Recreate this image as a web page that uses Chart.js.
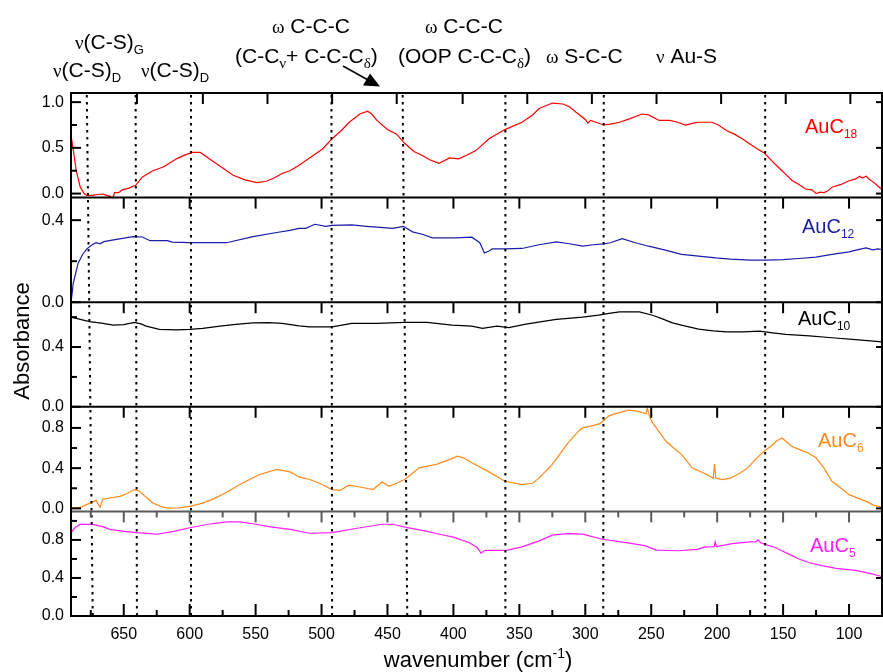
<!DOCTYPE html>
<html>
<head>
<meta charset="utf-8">
<script src="https://cdn.jsdelivr.net/npm/chart.js@4/dist/chart.umd.min.js"></script>
<style>
  html, body { margin: 0; padding: 0; background: #fff; }
  #wrap { width: 883px; height: 672px; }
</style>
</head>
<body>
<div id="wrap"><canvas id="spectra" width="883" height="672"></canvas></div>
<script>
const SANS = '"Liberation Sans", Arial, sans-serif';
const SERIF = '"Liberation Serif", "Times New Roman", serif';

// --- data: wavenumber (cm-1) and absorbance per film ---
const wnC18 = [690, 688, 686, 683, 680, 678, 674, 670, 666, 663, 660, 659, 658, 657, 654, 651, 646, 641, 636, 628,
  620, 610, 604, 598, 592, 583, 575, 567, 558, 549, 542, 536, 530, 524, 517, 508, 499, 492, 485, 479,
  471, 465, 462, 458, 450, 443, 437, 430, 424, 418, 411, 407, 403, 396, 390, 383, 373, 361, 348, 340,
  335, 325, 317, 312, 307, 300, 298, 296, 292, 286, 281, 274, 266, 257, 252, 244, 236, 230, 224, 218,
  214, 208, 204, 199, 193, 187, 181, 176, 171, 164, 158, 153, 148, 143, 138, 133, 128, 125, 122, 119,
  116, 113, 106, 100, 95, 92, 90, 87, 85, 81, 78, 75.5];
const absC18 = [0.64, 0.45, 0.25, 0.07, 0.0, -0.02, -0.02, -0.01, -0.005, -0.02, -0.03, -0.13, -0.04, 0.01, 0.01, 0.04, 0.06, 0.09, 0.18, 0.25,
  0.29, 0.38, 0.42, 0.45, 0.45, 0.36, 0.28, 0.20, 0.15, 0.12, 0.135, 0.17, 0.22, 0.25, 0.31, 0.40, 0.49, 0.60, 0.69, 0.78,
  0.87, 0.90, 0.87, 0.80, 0.70, 0.65, 0.55, 0.46, 0.42, 0.37, 0.33, 0.36, 0.39, 0.38, 0.42, 0.47, 0.60, 0.70, 0.78, 0.86,
  0.93, 0.99, 0.98, 0.95, 0.89, 0.81, 0.77, 0.80, 0.78, 0.75, 0.76, 0.78, 0.82, 0.87, 0.86, 0.80, 0.80, 0.78, 0.75, 0.77,
  0.78, 0.78, 0.78, 0.75, 0.69, 0.65, 0.60, 0.55, 0.50, 0.44, 0.35, 0.28, 0.21, 0.14, 0.10, 0.05, 0.04, 0.00, 0.015, 0.01,
  0.03, 0.07, 0.10, 0.14, 0.16, 0.19, 0.17, 0.19, 0.16, 0.12, 0.08, 0.05];

const wnC12 = [690, 689, 688.4, 686.5, 684.6, 681, 678, 674, 671, 668, 665, 661, 652, 643, 636, 630, 617, 613, 600, 592,
  572, 552, 534, 524, 517, 512, 505, 497, 492, 477, 466, 458, 446, 438, 431, 423, 416, 398, 386, 380,
  376.5, 373, 370.5, 361, 348, 335, 322, 312, 302, 294, 286, 281, 272, 262, 252, 240, 227, 214, 201, 190,
  175, 163, 150, 138, 125, 113, 100, 94, 87, 82, 78, 75];
const absC12 = [0.0, 0.05, 0.09, 0.14, 0.19, 0.235, 0.26, 0.28, 0.29, 0.285, 0.295, 0.30, 0.31, 0.32, 0.318, 0.30, 0.30, 0.293, 0.29, 0.29,
  0.29, 0.32, 0.34, 0.35, 0.36, 0.36, 0.38, 0.37, 0.375, 0.377, 0.37, 0.366, 0.36, 0.37, 0.343, 0.33, 0.314, 0.314, 0.317, 0.29,
  0.24, 0.25, 0.26, 0.26, 0.262, 0.28, 0.294, 0.285, 0.273, 0.28, 0.284, 0.29, 0.31, 0.29, 0.273, 0.255, 0.233, 0.225, 0.216, 0.21,
  0.205, 0.205, 0.208, 0.213, 0.22, 0.233, 0.245, 0.255, 0.265, 0.255, 0.26, 0.257];

const wnC10 = [690, 683, 676, 667, 658, 650, 642, 637, 633, 623, 610, 600, 590, 577, 565, 552, 540, 530, 517, 509,
  492, 477, 458, 437, 420, 401, 386, 378, 367, 358, 345, 333, 322, 302, 290, 282, 274, 259, 249, 242,
  234, 224, 214, 203, 193, 180, 168, 158, 148, 130, 113, 95, 75];
const absC10 = [0.60, 0.585, 0.57, 0.56, 0.547, 0.55, 0.565, 0.555, 0.54, 0.518, 0.515, 0.518, 0.525, 0.54, 0.552, 0.562, 0.563, 0.558, 0.542, 0.535,
  0.535, 0.558, 0.558, 0.565, 0.565, 0.547, 0.54, 0.525, 0.54, 0.53, 0.553, 0.57, 0.585, 0.60, 0.613, 0.625, 0.635, 0.635, 0.613, 0.59,
  0.562, 0.54, 0.52, 0.508, 0.502, 0.502, 0.506, 0.495, 0.485, 0.475, 0.462, 0.45, 0.435];

const wnC6 = [690, 683, 676, 671, 668, 666, 661, 653, 647, 642, 638, 633, 628, 622, 617, 608, 600, 591, 583, 572,
  562, 547, 534, 524, 517, 509, 500, 492, 486, 479, 470, 461, 454, 449, 443, 437, 431, 426, 413, 404,
  397, 392, 386, 373, 361, 348, 340, 335, 325, 314, 305, 302, 295, 289, 282, 275, 267, 260, 254, 253,
  251, 249, 239, 233, 227, 219, 208, 203, 202, 201, 196, 190, 183, 177, 171, 164, 159, 155, 151, 148,
  144, 138, 131, 125, 119, 113, 106, 100, 93, 87, 81, 75];
const absC6 = [0.0, 0.01, 0.05, 0.08, 0.01, 0.09, 0.103, 0.12, 0.15, 0.187, 0.17, 0.11, 0.053, 0.02, 0.003, 0.005, 0.02, 0.05, 0.087, 0.16,
  0.237, 0.337, 0.387, 0.363, 0.313, 0.287, 0.24, 0.187, 0.18, 0.23, 0.21, 0.187, 0.263, 0.22, 0.25, 0.287, 0.35, 0.403, 0.437, 0.48,
  0.52, 0.50, 0.453, 0.363, 0.27, 0.237, 0.25, 0.303, 0.437, 0.637, 0.77, 0.80, 0.82, 0.843, 0.92, 0.95, 0.977, 0.965, 0.94, 1.0,
  0.90, 0.853, 0.67, 0.60, 0.537, 0.403, 0.337, 0.30, 0.44, 0.30, 0.287, 0.30, 0.35, 0.40, 0.487, 0.573, 0.62, 0.67, 0.70, 0.67,
  0.62, 0.587, 0.55, 0.503, 0.40, 0.27, 0.20, 0.137, 0.10, 0.07, 0.03, 0.013];

const wnC5 = [690, 687, 683, 673.5, 666, 660.6, 650, 640, 625, 612, 600, 586, 572, 562, 552, 540, 524, 509, 492, 474,
  454, 446, 435, 420, 410.6, 400, 388, 382, 379, 376, 360, 348, 335, 325, 314, 302, 287, 269, 255, 246,
  229, 215, 208.7, 202.3, 201.5, 200.5, 188.6, 175, 170.5, 169, 167, 163, 156, 151, 144, 138, 130, 120.5, 110, 95,
  85, 75];
const absC5 = [0.876, 0.93, 0.963, 0.963, 0.94, 0.911, 0.89, 0.876, 0.86, 0.89, 0.928, 0.965, 0.99, 0.99, 0.97, 0.94, 0.911, 0.87, 0.876, 0.92,
  0.965, 0.965, 0.93, 0.89, 0.86, 0.83, 0.77, 0.72, 0.66, 0.69, 0.69, 0.727, 0.79, 0.85, 0.866, 0.86, 0.807, 0.772, 0.74, 0.693,
  0.686, 0.70, 0.727, 0.73, 0.78, 0.73, 0.762, 0.78, 0.783, 0.80, 0.77, 0.75, 0.72, 0.686, 0.64, 0.60, 0.56, 0.53, 0.50, 0.48,
  0.45, 0.415];

// panels, top to bottom
const panelIds = ['yC18', 'yC12', 'yC10', 'yC6', 'yC5'];
const labelSubs = ['18', '12', '10', '6', '5'];
const seriesX = [wnC18, wnC12, wnC10, wnC6, wnC5];
const seriesY = [absC18, absC12, absC10, absC6, absC5];
const seriesColors = ['#ff0000', '#1c1ca8', '#000000', '#ff8a1c', '#ff1cff'];
const yMin = [-0.044, 0, 0, -0.03, 0];
const yMax = [1.10, 0.51, 0.70, 1.01, 1.10];
const yTickLabels = [[0, 0.5, 1.0], [0, 0.4], [0, 0.4], [0, 0.4, 0.8], [0, 0.4, 0.8]];
const yMinorTicks = [[0.25, 0.75], [0.2], [0.2, 0.6], [0.2, 0.6], [0.2, 0.6, 1.0]];

// x axis
const xTickLabels = [650, 600, 550, 500, 450, 400, 350, 300, 250, 200, 150, 100];
const xMinorTicks = [675, 625, 575, 525, 475, 425, 375, 325, 275, 225, 175, 125, 75];
// the top panel's own tick marks sit slightly off the common scale
const topPanelTicks = [640, 590, 541, 492, 443, 393, 344, 295, 246, 197, 148, 99];

// dotted band markers (slightly slanted in the original)
const guideTop = [678, 641, 599, 492.5, 438.5, 360.6, 286, 163.6];
const guideBottom = [673.5, 640, 599, 492, 435, 360.6, 286.4, 163.6];

// series labels: [x px, baseline px]
const labelPos = [[805, 133], [802, 233], [798, 325], [818, 447], [810, 552]];

// band assignments above the plot
const annotations = [
  { x: 75, y: 49, runs: [['ν', 'g'], ['(C-S)', 'n'], ['G', 's']] },
  { x: 53, y: 77, runs: [['ν', 'g'], ['(C-S)', 'n'], ['D', 's']] },
  { x: 141, y: 77, runs: [['ν', 'g'], ['(C-S)', 'n'], ['D', 's']] },
  { x: 272, y: 33, runs: [['ω', 'g'], [' C-C-C', 'n']] },
  { x: 235, y: 63, runs: [['(C-C', 'n'], ['ν', 'sg'], ['+ C-C-C', 'n'], ['δ', 'sg'], [')', 'n']] },
  { x: 425, y: 33, runs: [['ω', 'g'], [' C-C-C', 'n']] },
  { x: 398, y: 63, runs: [['(OOP C-C-C', 'n'], ['δ', 'sg'], [')', 'n']] },
  { x: 546, y: 63, runs: [['ω', 'g'], [' S-C-C', 'n']] },
  { x: 656, y: 63, runs: [['ν', 'g'], [' Au-S', 'n']] }
];

function drawRuns(ctx, x, y, runs, size, align) {
  const st = {
    n: [size + 'px ' + SANS, 0],
    g: [(size - 2) + 'px ' + SERIF, 0],
    s: [Math.round(size * 0.62) + 'px ' + SANS, 5],
    sg: [Math.round(size * 0.72) + 'px ' + SERIF, 5],
    p: [Math.round(size * 0.62) + 'px ' + SANS, -9]
  };
  let total = 0;
  runs.forEach(([t, k]) => { ctx.font = st[k][0]; total += ctx.measureText(t).width; });
  let cx = align === 'center' ? x - total / 2 : x;
  ctx.textAlign = 'left';
  ctx.textBaseline = 'alphabetic';
  runs.forEach(([t, k]) => {
    ctx.font = st[k][0];
    ctx.fillText(t, cx, y + st[k][1]);
    cx += ctx.measureText(t).width;
  });
}

const panelFrames = {
  id: 'panelFrames',
  afterDatasetsDraw(chart) {
    const { ctx, chartArea: a, scales } = chart;
    const xs = scales.x;
    ctx.save();

    // dotted guide lines
    ctx.strokeStyle = '#000';
    ctx.lineWidth = 2;
    ctx.setLineDash([2.5, 4.5]);
    guideTop.forEach((w, i) => {
      ctx.beginPath();
      ctx.moveTo(xs.getPixelForValue(w), a.top + 2);
      ctx.lineTo(xs.getPixelForValue(guideBottom[i]), a.bottom);
      ctx.stroke();
    });
    ctx.setLineDash([]);

    const vTick = (w, y, len, col) => {
      const px = xs.getPixelForValue(w);
      ctx.strokeStyle = col;
      ctx.beginPath(); ctx.moveTo(px, y); ctx.lineTo(px, y + len); ctx.stroke();
    };

    panelIds.forEach((id, i) => {
      const ys = scales[id];
      const top = ys.top;
      const col = i === 4 ? '#5a5a5a' : '#000';
      ctx.lineWidth = 2;
      // panel top edge and its ticks
      ctx.strokeStyle = col;
      ctx.beginPath(); ctx.moveTo(a.left, top); ctx.lineTo(a.right, top); ctx.stroke();
      if (i === 0) {
        topPanelTicks.forEach(w => vTick(w, top, 11, '#000'));
      } else {
        xTickLabels.forEach(w => vTick(w, top, 11, col));
        if (i === 4) xMinorTicks.forEach(w => vTick(w, top, 6, col));
      }
      // y ticks: inward on both sides
      ctx.strokeStyle = '#000';
      yTickLabels[i].forEach(v => {
        const py = ys.getPixelForValue(v);
        ctx.beginPath(); ctx.moveTo(a.left, py); ctx.lineTo(a.left + 10, py); ctx.stroke();
        ctx.beginPath(); ctx.moveTo(a.right, py); ctx.lineTo(a.right - 6, py); ctx.stroke();
      });
      yMinorTicks[i].forEach(v => {
        const py = ys.getPixelForValue(v);
        ctx.beginPath(); ctx.moveTo(a.left, py); ctx.lineTo(a.left + 6, py); ctx.stroke();
      });
    });

    // outer frame bottom + sides
    ctx.strokeStyle = '#000';
    ctx.beginPath(); ctx.moveTo(a.left, a.bottom); ctx.lineTo(a.right, a.bottom); ctx.stroke();
    xTickLabels.forEach(w => vTick(w, a.bottom, -12, '#000'));
    xMinorTicks.forEach(w => vTick(w, a.bottom, -6, '#000'));
    ctx.beginPath(); ctx.moveTo(a.left, a.top - 1); ctx.lineTo(a.left, a.bottom + 1); ctx.stroke();
    ctx.beginPath(); ctx.moveTo(a.right, a.top - 1); ctx.lineTo(a.right, a.bottom + 1); ctx.stroke();

    // series labels
    labelPos.forEach(([lx, ly], i) => {
      ctx.fillStyle = seriesColors[i];
      drawRuns(ctx, lx, ly, [['AuC', 'n'], [labelSubs[i], 's']], 20);
    });

    // annotations + arrow
    ctx.fillStyle = '#000';
    ctx.strokeStyle = '#000';
    annotations.forEach(an => drawRuns(ctx, an.x, an.y, an.runs, 21));
    ctx.lineWidth = 1.6;
    ctx.beginPath(); ctx.moveTo(343, 66); ctx.lineTo(369, 80.5); ctx.stroke();
    ctx.beginPath(); ctx.moveTo(380, 86.5); ctx.lineTo(363, 85.5); ctx.lineTo(370, 73.5); ctx.closePath(); ctx.fill();

    // axis titles
    drawRuns(ctx, 478, 667, [['wavenumber (cm', 'n'], ['-1', 'p'], [')', 'n']], 22, 'center');
    ctx.save();
    ctx.translate(29, 341);
    ctx.rotate(-Math.PI / 2);
    ctx.font = '22px ' + SANS;
    ctx.textAlign = 'center';
    ctx.textBaseline = 'alphabetic';
    ctx.fillText('Absorbance', 0, 0);
    ctx.restore();

    ctx.restore();
  }
};

const yScales = {};
// stacked left axes; in this stack a higher weight sits higher up
panelIds.forEach((id, i) => {
  yScales[id] = {
    type: 'linear',
    position: 'left',
    stack: 'panels',
    stackWeight: 1,
    weight: panelIds.length - 1 - i,
    min: yMin[i],
    max: yMax[i],
    grid: { display: false, drawTicks: false },
    border: { display: false },
    afterBuildTicks: s => { s.ticks = yTickLabels[i].map(v => ({ value: v })); },
    afterFit: s => { s.width = 71; },
    ticks: {
      autoSkip: false,
      padding: 7,
      color: '#000',
      font: { family: SANS, size: 16 },
      callback: v => Number(v).toFixed(1)
    }
  };
});

const datasets = panelIds.map((id, i) => ({
  label: 'AuC' + labelSubs[i],
  data: seriesX[i].map((w, k) => ({ x: w, y: seriesY[i][k] })),
  yAxisID: id,
  borderColor: seriesColors[i],
  borderWidth: 1.2,
  pointRadius: 0,
  tension: 0,
  fill: false
}));

new Chart(document.getElementById('spectra'), {
  type: 'line',
  data: { datasets },
  options: {
    responsive: false,
    animation: false,
    layout: { padding: { top: 93, right: 1, bottom: 0, left: 0 } },
    plugins: { legend: { display: false }, tooltip: { enabled: false } },
    scales: Object.assign({
      x: {
        type: 'linear',
        reverse: true,
        min: 75,
        max: 690,
        position: 'bottom',
        grid: { display: false, drawTicks: false },
        border: { display: false },
        afterBuildTicks: s => { s.ticks = xTickLabels.map(v => ({ value: v })); },
        afterFit: s => { s.height = 56; },
        ticks: {
          autoSkip: false,
          maxRotation: 0,
          padding: 9,
          color: '#000',
          font: { family: SANS, size: 16 }
        }
      }
    }, yScales)
  },
  plugins: [panelFrames]
});
</script>
</body>
</html>
